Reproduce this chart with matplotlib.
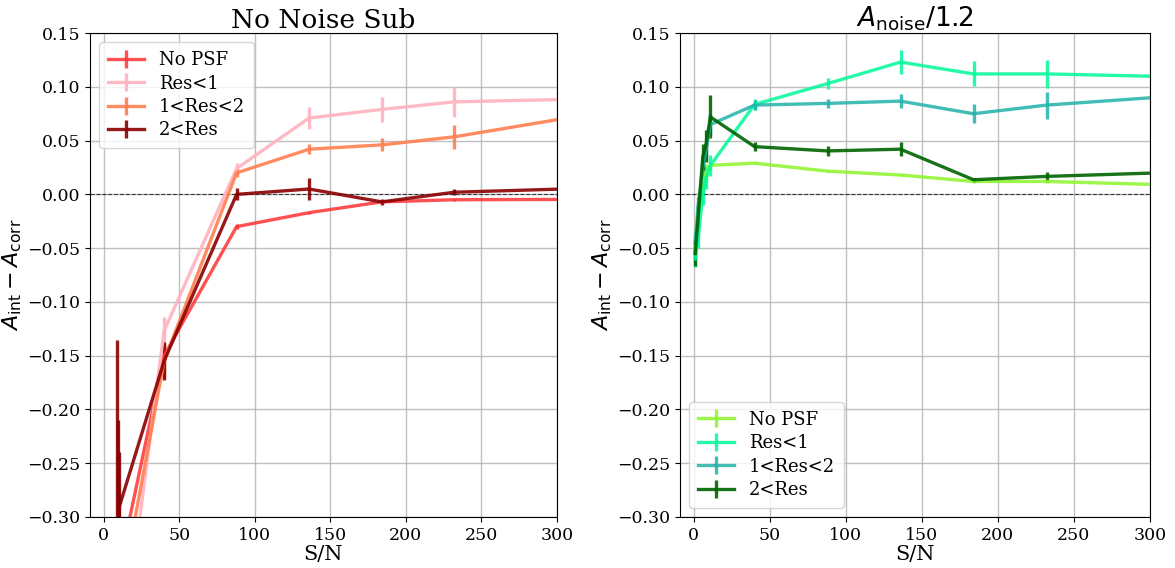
import matplotlib
matplotlib.use("Agg")
import matplotlib.pyplot as plt
import numpy as np

plt.rcParams['font.family'] = ['DejaVu Serif']
plt.rcParams['mathtext.fontset'] = 'dejavusans'

labels = ["No PSF", "Res<1", "1<Res<2", "2<Res"]
yticks = [-0.30, -0.25, -0.20, -0.15, -0.10, -0.05, 0.00, 0.05, 0.10, 0.15]
xticks = [0, 50, 100, 150, 200, 250, 300]

# ---- Left panel: No Noise Sub ----
sn_left = [3, 6, 9, 9.5, 10.5, 40, 88, 136, 184, 232, 328]
left_nopsf = [-0.70, -0.55, -0.42, -0.40, -0.346, -0.150, -0.030, -0.017, -0.007, -0.005, -0.0046]
left_nopsf_err = [0.03, 0.03, 0.03, 0.03, 0.02, 0.005, 0.002, 0.001, 0.001, 0.001, 0.001]
left_res1 = [-0.90, -0.70, -0.50, -0.48, -0.446, -0.127, 0.024, 0.071, 0.079, 0.086, 0.089]
left_res1_err = [0.03, 0.03, 0.03, 0.03, 0.03, 0.013, 0.005, 0.0105, 0.012, 0.0137, 0.015]
left_res12 = [-0.80, -0.60, -0.45, -0.42, -0.38, -0.155, 0.020, 0.042, 0.046, 0.0535, 0.076]
left_res12_err = [0.03, 0.03, 0.03, 0.03, 0.03, 0.016, 0.004, 0.0047, 0.006, 0.011, 0.012]
left_res2 = [-0.60, -0.45, -0.33, -0.36, -0.29, -0.155, 0.000, 0.005, -0.007, 0.002, 0.006]
left_res2_err = [0.05, 0.10, 0.195, 0.15, 0.05, 0.018, 0.0055, 0.010, 0.003, 0.003, 0.003]

# ---- Right panel: A_noise/1.2 ----
sn_right = [1, 3, 6, 8, 11, 40, 88, 136, 184, 232, 328]
right_nopsf = [-0.050, -0.020, 0.010, 0.020, 0.027, 0.029, 0.0216, 0.018, 0.012, 0.012, 0.0082]
right_nopsf_err = [0.010, 0.008, 0.008, 0.008, 0.004, 0.001, 0.001, 0.001, 0.001, 0.001, 0.001]
right_res1 = [-0.060, -0.040, 0.000, 0.015, 0.027, 0.0836, 0.103, 0.123, 0.112, 0.112, 0.109]
right_res1_err = [0.008, 0.010, 0.010, 0.010, 0.010, 0.005, 0.0054, 0.011, 0.0116, 0.013, 0.013]
right_res12 = [-0.045, -0.010, 0.025, 0.040, 0.065, 0.083, 0.0846, 0.0867, 0.075, 0.083, 0.0926]
right_res12_err = [0.010, 0.008, 0.010, 0.008, 0.010, 0.005, 0.004, 0.0065, 0.009, 0.0125, 0.012]
right_res2 = [-0.055, -0.020, 0.035, 0.045, 0.072, 0.0444, 0.0404, 0.042, 0.0136, 0.0167, 0.021]
right_res2_err = [0.012, 0.010, 0.012, 0.015, 0.020, 0.004, 0.005, 0.0065, 0.002, 0.004, 0.004]

left_colors = ["#ff3333", "#ffb6c1", "#ff7f50", "#8b0000"]
right_colors = ["#8cf52a", "#00fa9a", "#20b2aa", "#006400"]
left_alpha = [0.85, 0.95, 0.9, 0.9]
right_alpha = [0.85, 0.85, 0.85, 0.9]

fig = plt.figure(figsize=(11.75, 5.68), dpi=100)
axL = fig.add_axes([0.0766, 0.0898, 0.3974, 0.852])
axR = fig.add_axes([0.5787, 0.0898, 0.4000, 0.852])

left_series = [(left_nopsf, left_nopsf_err), (left_res1, left_res1_err),
               (left_res12, left_res12_err), (left_res2, left_res2_err)]
right_series = [(right_nopsf, right_nopsf_err), (right_res1, right_res1_err),
                (right_res12, right_res12_err), (right_res2, right_res2_err)]

fmt = matplotlib.ticker.FuncFormatter(lambda v, p: ("%.2f" % v).replace("-", "\u2212") if abs(v) > 1e-9 else "0.00")

for ax, sn, series, colors, alphas in [(axL, sn_left, left_series, left_colors, left_alpha),
                                       (axR, sn_right, right_series, right_colors, right_alpha)]:
    for (vals, errs), lab, c, a in zip(series, labels, colors, alphas):
        ax.errorbar(sn, vals, yerr=errs, color=c, alpha=a, lw=2.4, elinewidth=2.4,
                    capsize=0, label=lab)
    ax.axhline(0, color='k', ls='--', lw=0.8, alpha=0.7)
    ax.set_xlim(-9, 300)
    ax.set_ylim(-0.30, 0.15)
    ax.set_xticks(xticks)
    ax.set_yticks(yticks)
    ax.yaxis.set_major_formatter(fmt)
    ax.grid(True, color='#b0b0b0', lw=1, alpha=0.8)
    ax.set_axisbelow(True)
    ax.tick_params(labelsize=12.5)
    ax.set_xlabel("S/N", fontsize=15, labelpad=1)
    ax.set_ylabel(r"$A_{\rm int} - A_{\rm corr}$", fontsize=16, family='DejaVu Sans', labelpad=2)

axL.set_title("No Noise Sub", fontsize=19, pad=4)
axR.set_title(r"$A_{\rm noise}/1.2$", fontsize=19, pad=4)
axL.legend(loc='upper left', fontsize=13, handlelength=2, borderpad=0.5, labelspacing=0.3)
axR.legend(loc='lower left', fontsize=13, handlelength=2, borderpad=0.5, labelspacing=0.3)

fig.savefig("out.png", dpi=100)
